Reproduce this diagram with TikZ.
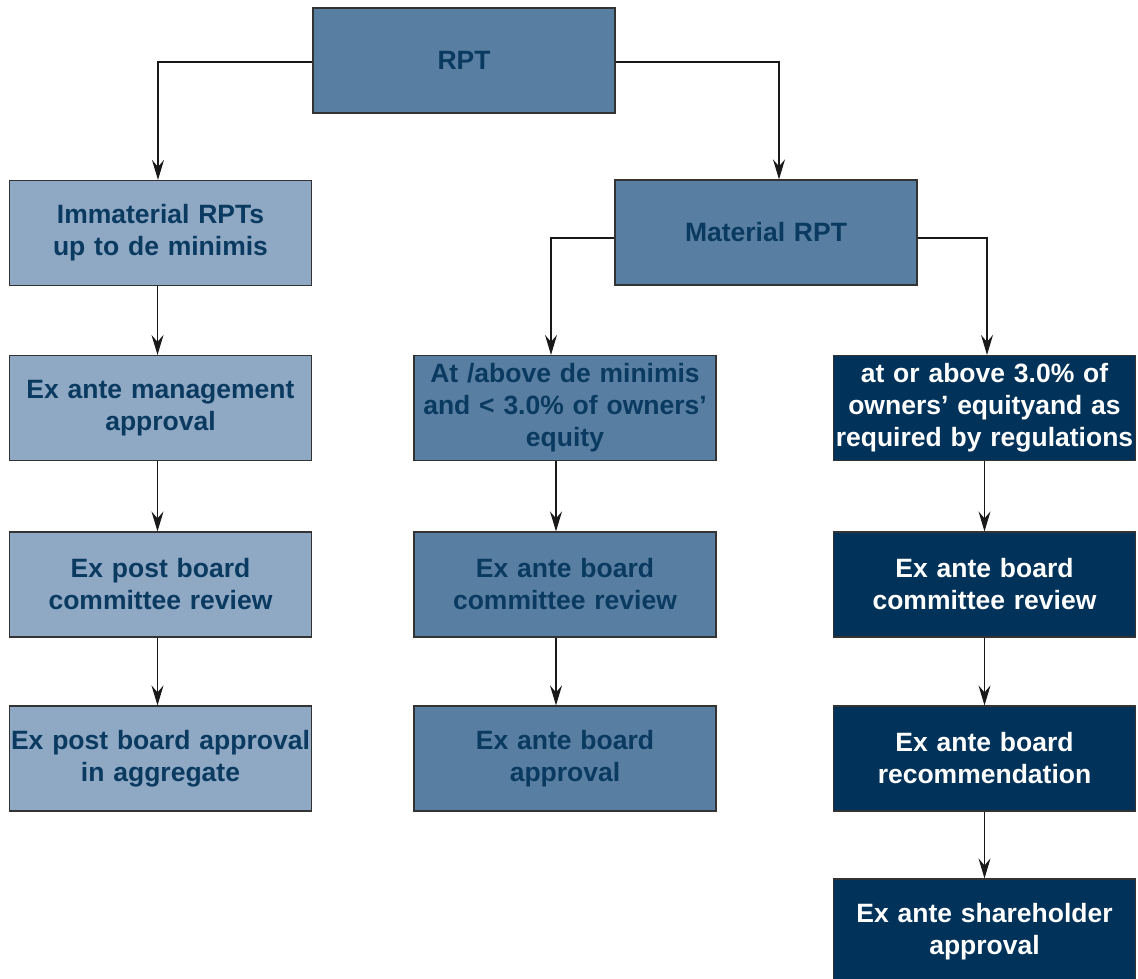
\documentclass[tikz,border=0pt]{standalone}
\usepackage{fontspec}
\setmainfont{Liberation Sans}
\usetikzlibrary{arrows.meta,positioning}
\definecolor{rptlight}{HTML}{8FA8C4}
\definecolor{rptmid}{HTML}{587EA1}
\definecolor{rptdark}{HTML}{00325A}
\definecolor{rpttext}{HTML}{0B3A60}
\tikzset{
  box/.style={draw=black!80,line width=1.2pt,minimum width=302pt,minimum height=105pt,
    inner sep=0pt,align=center,text width=300pt,
    font=\fontsize{26.5}{32}\selectfont\bfseries},
  lightbox/.style={box,fill=rptlight,text=rpttext},
  midbox/.style={box,fill=rptmid,text=rpttext},
  darkbox/.style={box,fill=rptdark,text=white},
  arr/.style={draw=black!90,line width=1.1pt,-{Stealth[length=20pt,width=12pt,inset=7pt]}}
}
\begin{document}
\begin{tikzpicture}[x=1pt,y=-1pt]
    \useasboundingbox (0,0) rectangle (1138,978);
    % top
    \node[midbox] (rpt) at (464,60.5) {RPT};
    \node[lightbox] (immat) at (160.5,233) {Immaterial RPTs\\up to de minimis};
    \node[midbox] (mat) at (766,232.5) {Material RPT};
    % left column
    \node[lightbox] (mgmt) at (160.5,408) {Ex ante management\\approval};
    \node[lightbox] (postrev) at (160.5,584.5) {Ex post board\\committee review};
    \node[lightbox] (postapp) at (160.5,758.5) {Ex post board approval\\in aggregate};
    % middle column
    \node[midbox] (mid) at (565,408) {At /above de minimis\\and < 3.0\% of owners’\\equity};
    \node[midbox] (midrev) at (565,584.5) {Ex ante board\\committee review};
    \node[midbox] (midapp) at (565,758.5) {Ex ante board\\approval};
    % right column
    \node[darkbox] (big) at (984.5,408) {at or above 3.0\% of\\owners’ equityand as\\required by regulations};
    \node[darkbox] (bigrev) at (984.5,584.5) {Ex ante board\\committee review};
    \node[darkbox] (bigrec) at (984.5,758.5) {Ex ante board\\recommendation};
    \node[darkbox] (share) at (984.5,931.5) {Ex ante shareholder\\approval};
    % connectors
    \draw[arr] ([yshift=-1.5pt]rpt.west) -| ([xshift=-2.5pt]immat.north);
    \draw[arr] ([yshift=-1.5pt]rpt.east) -| ([xshift=13pt]mat.north);
    \draw[arr] ([yshift=-5.5pt]mat.west) -| ([xshift=-14pt]mid.north);
    \draw[arr] ([yshift=-5.5pt]mat.east) -| ([xshift=2.5pt]big.north);
    \draw[arr] ([xshift=-3pt]immat.south) -- ([xshift=-3pt]mgmt.north);
    \draw[arr] ([xshift=-3pt]mgmt.south) -- ([xshift=-3pt]postrev.north);
    \draw[arr] ([xshift=-3pt]postrev.south) -- ([xshift=-3pt]postapp.north);
    \draw[arr] ([xshift=-9pt]mid.south) -- ([xshift=-9pt]midrev.north);
    \draw[arr] ([xshift=-9pt]midrev.south) -- ([xshift=-9pt]midapp.north);
    \draw[arr] (big.south) -- (bigrev.north);
    \draw[arr] (bigrev.south) -- (bigrec.north);
    \draw[arr] (bigrec.south) -- (share.north);
\end{tikzpicture}
\end{document}
